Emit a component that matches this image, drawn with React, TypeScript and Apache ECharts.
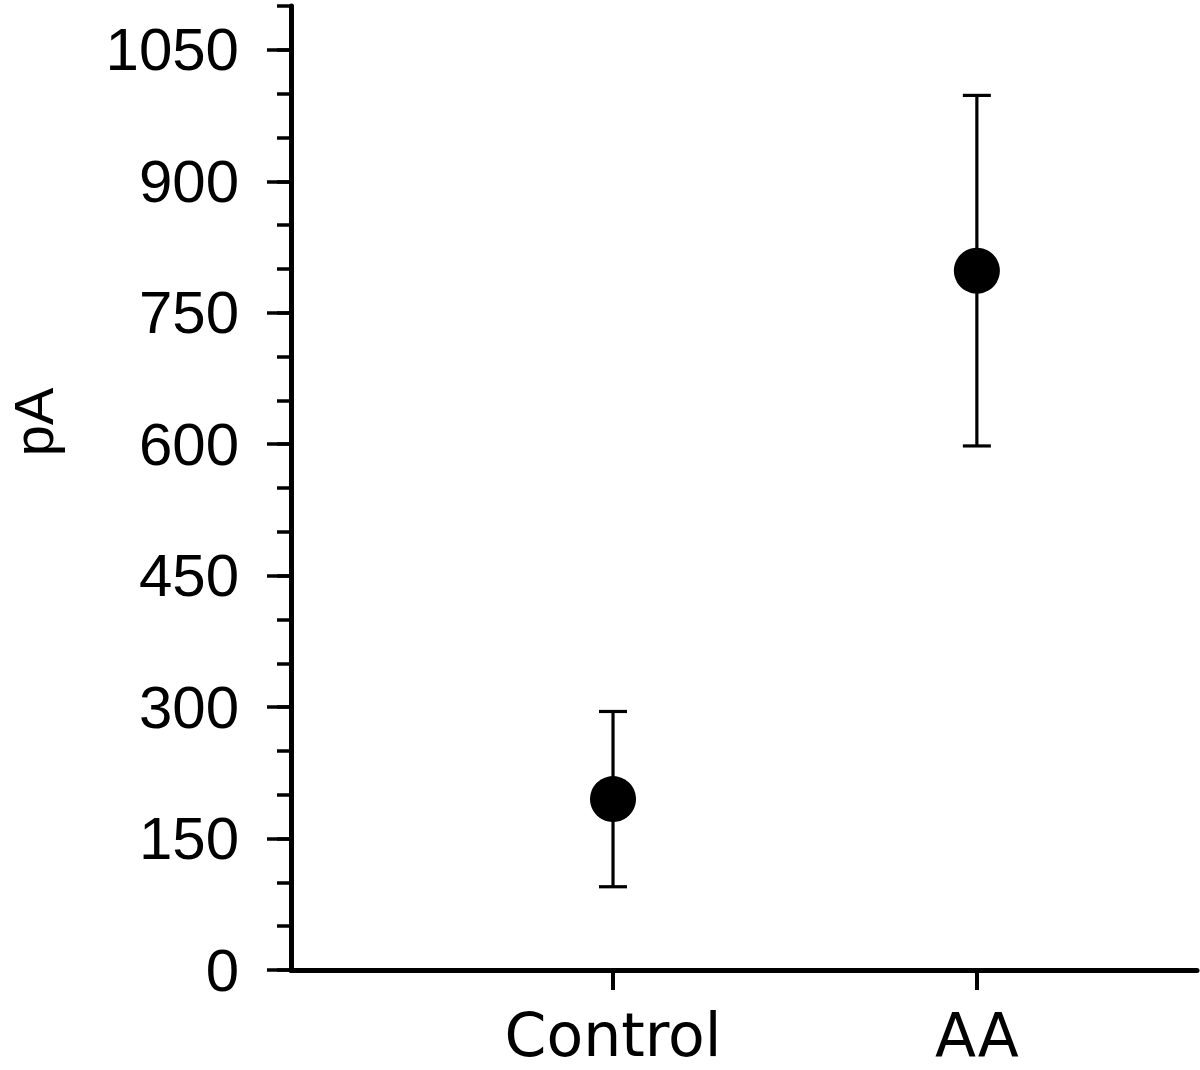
import React, { useEffect, useRef } from "react";
import * as echarts from "echarts";

const categories = ["Control", "AA"];
const xPositions = [1, 2];
const means = [195, 798];
const errors = [100, 200];
const yLabelMax = 1050;
const yAxisMax = 1100;
const yMajorInterval = 150;
const yMinorInterval = 50;
const yAxisTitle = "pA";

export default function App() {
  const ref = useRef<HTMLDivElement>(null);
  useEffect(() => {
    if (!ref.current) return;
    const chart = echarts.init(ref.current, undefined, { renderer: "svg" });
    const plotTop = 6;
    const plotBottom = 100;
    const pxPerUnit = (1070 - plotBottom - plotTop) / yAxisMax;
    const labelGridTop = plotTop + (yAxisMax - yLabelMax) * pxPerUnit;
    const errData = xPositions.map((x, i) => [x, means[i] - errors[i], means[i] + errors[i]]);
    const pointData = xPositions.map((x, i) => [x, means[i]]);
    chart.setOption({
      animation: false,
      backgroundColor: "#ffffff",
      grid: [
        { left: 291, right: 3, top: plotTop, bottom: plotBottom, containLabel: false, outerBoundsMode: "none" },
        { left: 291, right: 3, top: labelGridTop, bottom: plotBottom, containLabel: false, outerBoundsMode: "none" },
      ],
      xAxis: [
        {
          type: "value",
          gridIndex: 0,
          min: 0.115,
          max: 2.605,
          splitLine: { show: false },
          axisLine: { show: true, lineStyle: { color: "#000", width: 5 } },
          axisTick: {
            show: true,
            customValues: xPositions,
            length: 20,
            lineStyle: { color: "#000", width: 4 },
          },
          axisLabel: {
            show: true,
            customValues: xPositions,
            margin: 45,
            lineHeight: 40,
            fontFamily: "DejaVu Sans",
            fontSize: 60,
            color: "#000",
            formatter: (v: number) => {
              const i = xPositions.indexOf(v);
              return i >= 0 ? categories[i] : "";
            },
          },
        },
        { type: "value", gridIndex: 1, min: 0, max: 1, show: false },
      ],
      yAxis: [
        {
          type: "value",
          gridIndex: 0,
          min: 0,
          max: yAxisMax,
          interval: yMinorInterval,
          splitLine: { show: false },
          axisLine: { show: true, lineStyle: { color: "#000", width: 5 } },
          axisTick: { show: true, length: 14, lineStyle: { color: "#000", width: 3.5 } },
          axisLabel: { show: false },
        },
        {
          type: "value",
          gridIndex: 1,
          min: 0,
          max: yLabelMax,
          interval: yMajorInterval,
          splitLine: { show: false },
          axisLine: { show: false },
          axisTick: { show: true, length: 24, lineStyle: { color: "#000", width: 3.5 } },
          axisLabel: {
            show: true,
            margin: 52,
            fontFamily: "Liberation Sans",
            fontSize: 60,
            color: "#000",
            formatter: (v: number) => String(v),
          },
        },
      ],
      graphic: [
        {
          type: "text",
          x: 5,
          y: 422,
          rotation: Math.PI / 2,
          style: {
            text: yAxisTitle,
            fontFamily: "Liberation Sans",
            fontSize: 56,
            lineHeight: 56,
            fill: "#000",
            align: "center",
            verticalAlign: "top",
          },
        },
      ],
      series: [
        {
          type: "custom",
          xAxisIndex: 0,
          yAxisIndex: 0,
          data: errData,
          encode: { x: 0, y: [1, 2] },
          z: 2,
          renderItem: (params: any, api: any) => {
            const x = api.value(0);
            const lo = api.value(1);
            const hi = api.value(2);
            const top = api.coord([x, hi]);
            const bot = api.coord([x, lo]);
            const half = 14;
            const style = { stroke: "#000", lineWidth: 3.2 };
            return {
              type: "group",
              children: [
                { type: "line", shape: { x1: top[0], y1: top[1], x2: bot[0], y2: bot[1] }, style },
                { type: "line", shape: { x1: top[0] - half, y1: top[1], x2: top[0] + half, y2: top[1] }, style },
                { type: "line", shape: { x1: bot[0] - half, y1: bot[1], x2: bot[0] + half, y2: bot[1] }, style },
              ],
            };
          },
        },
        {
          type: "scatter",
          xAxisIndex: 0,
          yAxisIndex: 0,
          data: pointData,
          symbol: "circle",
          symbolSize: 46,
          itemStyle: { color: "#000", opacity: 1 },
          z: 3,
        },
      ],
    });
    return () => chart.dispose();
  }, []);
  return (
    <div
      ref={ref}
      style={{ position: "absolute", left: 0, top: 0, width: 1200, height: 1070 }}
    />
  );
}
